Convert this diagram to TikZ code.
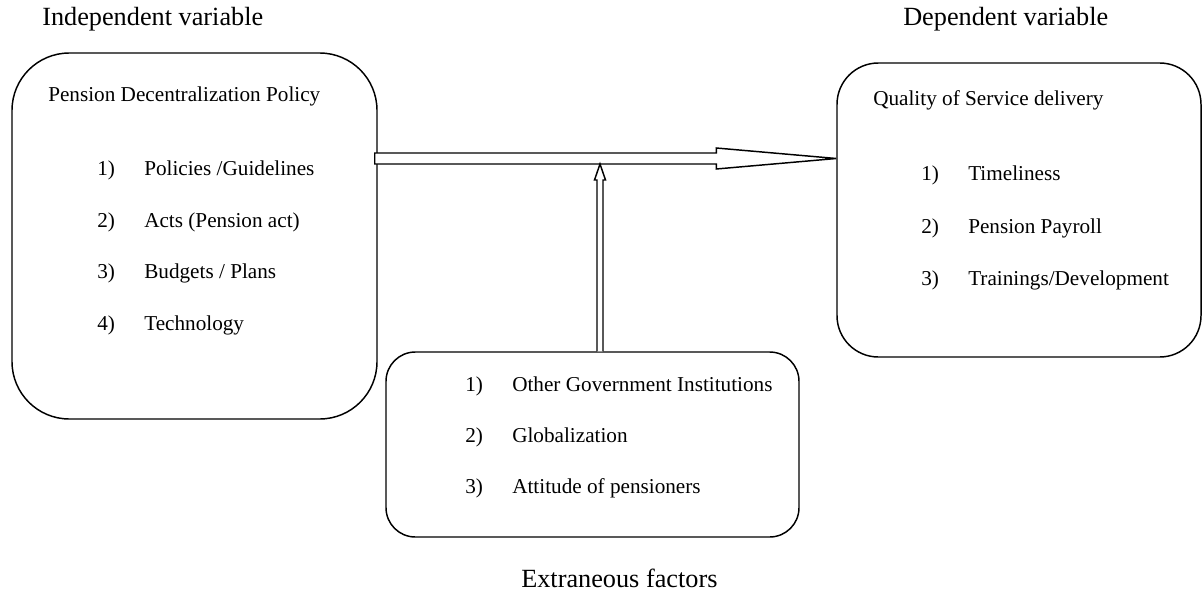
\documentclass[tikz,border=0pt]{standalone}
\usepackage{fontspec}
\setmainfont{Liberation Serif}
\usetikzlibrary{calc}

\tikzset{
  panel/.style={draw, line width=1.1pt, inner sep=0pt},
  item/.style={anchor=base west, inner sep=0pt, font=\fontsize{15.9}{19}\selectfont},
  head/.style={anchor=base west, inner sep=0pt, font=\fontsize{19.7}{23}\selectfont},
  hollow/.style={draw, fill=white, line width=1.1pt, line join=miter}
}

\begin{document}
\begin{tikzpicture}[x=0.75pt, y=-0.75pt]
  \useasboundingbox (0,0) rectangle (1202,592);
  % Headings
  \node[head] (indep) at (42,26) {Independent variable};
  \node[head] (dep) at (903,26) {Dependent variable};
  \node[head] (extra) at (521,587) {Extraneous factors};
  % Boxes
  \node[panel, rounded corners=43pt, minimum width=273.75pt, minimum height=274.5pt] (lbox) at (194.5,236) {};
  \node[panel, rounded corners=31pt, minimum width=273pt, minimum height=220.5pt] (rbox) at (1019,210) {};
  \node[panel, rounded corners=22pt, minimum width=309.75pt, minimum height=138.75pt] (bbox) at (592.5,444.5) {};
  % Independent variable
  \node[item] (ltitle) at (48,101) {Pension Decentralization Policy};
  \node[item] (ln1) at (97,175) {1)};
  \node[item] (lt1) at (144,175) {Policies /Guidelines};
  \node[item] (ln2) at (97,227) {2)};
  \node[item] (lt2) at (144,227) {Acts (Pension act)};
  \node[item] (ln3) at (97,278) {3)};
  \node[item] (lt3) at (144,278) {Budgets / Plans};
  \node[item] (ln4) at (97,330) {4)};
  \node[item] (lt4) at (144,330) {Technology};
  % Dependent variable
  \node[item] (rtitle) at (873,105) {Quality of Service delivery};
  \node[item] (rn1) at (921,180) {1)};
  \node[item] (rt1) at (968,180) {Timeliness};
  \node[item] (rn2) at (921,233) {2)};
  \node[item] (rt2) at (968,233) {Pension Payroll};
  \node[item] (rn3) at (921,285) {3)};
  \node[item] (rt3) at (968,285) {Trainings/Development};
  % Extraneous factors
  \node[item] (bn1) at (465,391) {1)};
  \node[item] (bt1) at (512,391) {Other Government Institutions};
  \node[item] (bn2) at (465,442) {2)};
  \node[item] (bt2) at (512,442) {Globalization};
  \node[item] (bn3) at (465,493) {3)};
  \node[item] (bt3) at (512,493) {Attitude of pensioners};
  % Main arrow
  \coordinate (hs) at ($(lbox.east |- 0,158.5)+(-3,0)$);
  \coordinate (ht) at (rbox.west |- hs);
  \coordinate (hb) at ($(ht)+(-120,0)$);
  \draw[hollow] ($(hs)+(0,-5.5)$) -- ($(hb)+(0,-5.5)$) -- ($(hb)+(0,-10.5)$) -- (ht)
    -- ($(hb)+(0,10.5)$) -- ($(hb)+(0,5.5)$) -- ($(hs)+(0,5.5)$) -- cycle;
  % Moderating arrow
  \coordinate (vs) at ($(bbox.north)+(7.5,0)$);
  \coordinate (vt) at ($(vs |- hs)+(0,5.5)$);
  \coordinate (vb) at ($(vt)+(0,16)$);
  \draw[hollow] ($(vs)+(-3,0)$) -- ($(vb)+(-3,0)$) -- ($(vb)+(-5.5,0)$) -- (vt)
    -- ($(vb)+(5.5,0)$) -- ($(vb)+(3,0)$) -- ($(vs)+(3,0)$);
\end{tikzpicture}
\end{document}
